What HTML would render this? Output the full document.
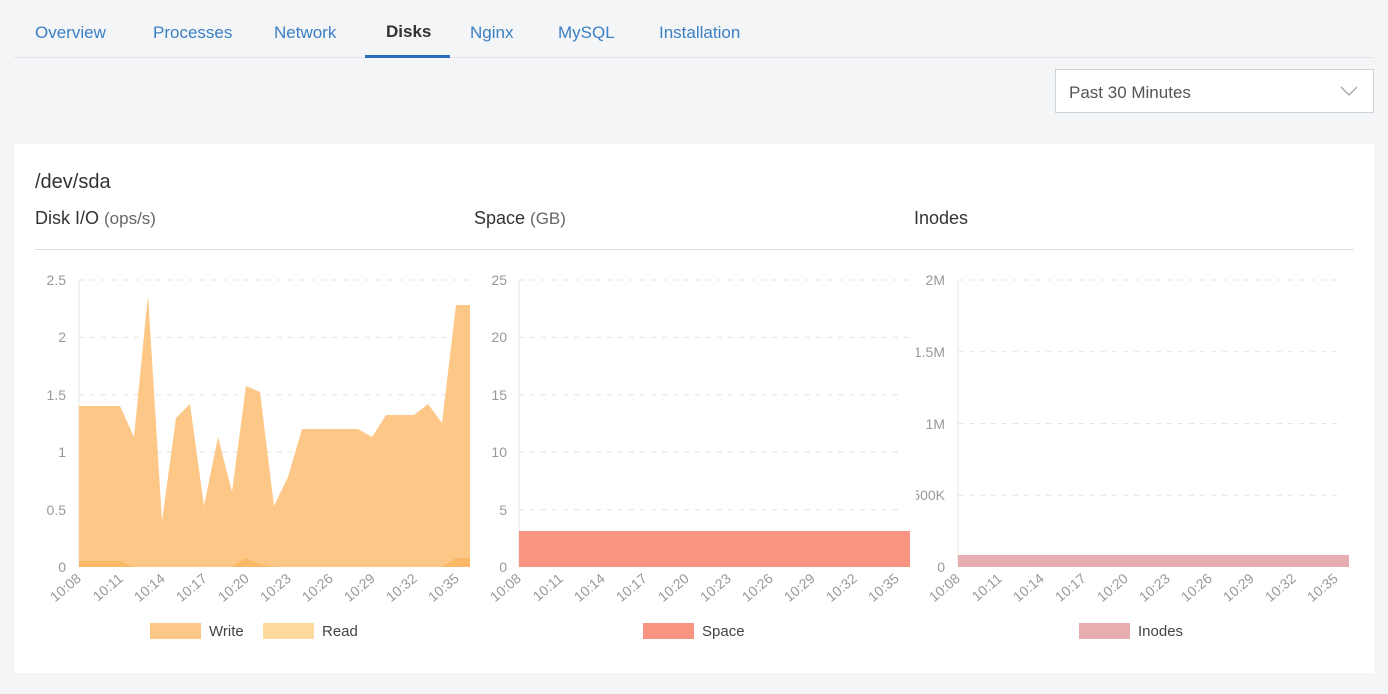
<!DOCTYPE html>
<html><head><meta charset="utf-8"><style>
body{margin:0;background:#f4f5f7;font-family:"Liberation Sans",sans-serif;}
</style></head><body>
<svg width="1388" height="689" xmlns="http://www.w3.org/2000/svg" font-family="Liberation Sans, sans-serif">
<rect width="1388" height="689" fill="#f4f5f7"/>
<g font-size="17" fill="#3b7fc4">
<text x="35" y="38">Overview</text>
<text x="153" y="38">Processes</text>
<text x="274" y="38">Network</text>
<text x="386" y="37" fill="#333" font-weight="bold">Disks</text>
<text x="470" y="38">Nginx</text>
<text x="558" y="38">MySQL</text>
<text x="659" y="38">Installation</text>
</g>
<rect x="14" y="57" width="1360" height="1" fill="#e1e3e6"/>
<rect x="365" y="55" width="85" height="3" fill="#2d6bbf"/>
<rect x="1055.5" y="69.5" width="318" height="43" fill="#fff" stroke="#cfd2d6"/>
<text x="1069" y="98" font-size="17" fill="#555">Past 30 Minutes</text>
<path d="M1341 87 l8 8 l8 -8" fill="none" stroke="#aaa" stroke-width="1.5"/>
<rect x="14" y="144" width="1360" height="529" fill="#fff"/>
<text x="35" y="188" font-size="20" fill="#333">/dev/sda</text>
<text x="35" y="224" font-size="18" fill="#333">Disk I/O <tspan fill="#666" font-size="17">(ops/s)</tspan></text>
<text x="474" y="224" font-size="18" fill="#333">Space <tspan fill="#666" font-size="17">(GB)</tspan></text>
<text x="914" y="224" font-size="18" fill="#333">Inodes</text>
<rect x="35" y="249" width="1319" height="1" fill="#ddd"/>
<g stroke="#e4e4e4" stroke-dasharray="5,6">
<line x1="79" x2="470" y1="280" y2="280"/><line x1="79" x2="470" y1="337.4" y2="337.4"/><line x1="79" x2="470" y1="394.8" y2="394.8"/><line x1="79" x2="470" y1="452.2" y2="452.2"/><line x1="79" x2="470" y1="509.6" y2="509.6"/>
<line x1="519" x2="910" y1="280" y2="280"/><line x1="519" x2="910" y1="337.4" y2="337.4"/><line x1="519" x2="910" y1="394.8" y2="394.8"/><line x1="519" x2="910" y1="452.2" y2="452.2"/><line x1="519" x2="910" y1="509.6" y2="509.6"/>
<line x1="958" x2="1343" y1="280" y2="280"/><line x1="958" x2="1343" y1="351.75" y2="351.75"/><line x1="958" x2="1343" y1="423.5" y2="423.5"/><line x1="958" x2="1343" y1="495.25" y2="495.25"/>
</g>
<g stroke="#e6e6e6"><line x1="79" x2="79" y1="280" y2="567"/><line x1="519" x2="519" y1="280" y2="567"/><line x1="958" x2="958" y1="280" y2="567"/></g>
<polygon fill="#fdc887" points="79,567 79,406 120,406 134,437 148,295 162,521 176,418 190,404 204,506 218,437 232,492 246,386 260,392 274,506 288,477 302,429 358,429 372,437 386,415 414,415 428,404 442,423 456,305 470,305 470,567"/>
<polygon fill="#fbb866" points="79,567 79,561 120,561 134,567 232,567 246,558 260,564 274,567 442,567 456,558 470,558 470,567"/>
<rect x="519" y="531" width="391" height="36" fill="#f99483"/>
<rect x="958" y="555" width="391" height="12" fill="#e8adb0"/>
<g font-size="14" fill="#999" text-anchor="end">
<text x="66" y="285">2.5</text><text x="66" y="342">2</text><text x="66" y="400">1.5</text><text x="66" y="457">1</text><text x="66" y="515">0.5</text><text x="66" y="572">0</text>
<text x="507" y="285">25</text><text x="507" y="342">20</text><text x="507" y="400">15</text><text x="507" y="457">10</text><text x="507" y="515">5</text><text x="507" y="572">0</text>
<text x="945" y="285">2M</text><text x="945" y="357">1.5M</text><text x="945" y="429">1M</text><text x="945" y="500">500K</text><text x="945" y="572">0</text>
</g>
<rect x="900" y="340" width="16" height="170" fill="#fff"/>
<g font-size="14" fill="#999" text-anchor="end">
<text transform="translate(82,580) rotate(-40)">10:08</text><text transform="translate(124,580) rotate(-40)">10:11</text><text transform="translate(166,580) rotate(-40)">10:14</text><text transform="translate(208,580) rotate(-40)">10:17</text><text transform="translate(250,580) rotate(-40)">10:20</text><text transform="translate(292,580) rotate(-40)">10:23</text><text transform="translate(334,580) rotate(-40)">10:26</text><text transform="translate(376,580) rotate(-40)">10:29</text><text transform="translate(418,580) rotate(-40)">10:32</text><text transform="translate(460,580) rotate(-40)">10:35</text>
<text transform="translate(522,580) rotate(-40)">10:08</text><text transform="translate(564,580) rotate(-40)">10:11</text><text transform="translate(606,580) rotate(-40)">10:14</text><text transform="translate(648,580) rotate(-40)">10:17</text><text transform="translate(690,580) rotate(-40)">10:20</text><text transform="translate(732,580) rotate(-40)">10:23</text><text transform="translate(774,580) rotate(-40)">10:26</text><text transform="translate(816,580) rotate(-40)">10:29</text><text transform="translate(858,580) rotate(-40)">10:32</text><text transform="translate(900,580) rotate(-40)">10:35</text>
<text transform="translate(961,580) rotate(-40)">10:08</text><text transform="translate(1003,580) rotate(-40)">10:11</text><text transform="translate(1045,580) rotate(-40)">10:14</text><text transform="translate(1087,580) rotate(-40)">10:17</text><text transform="translate(1129,580) rotate(-40)">10:20</text><text transform="translate(1171,580) rotate(-40)">10:23</text><text transform="translate(1213,580) rotate(-40)">10:26</text><text transform="translate(1255,580) rotate(-40)">10:29</text><text transform="translate(1297,580) rotate(-40)">10:32</text><text transform="translate(1339,580) rotate(-40)">10:35</text>
</g>
<g font-size="15" fill="#444">
<rect x="150" y="623" width="51" height="16" fill="#fdc887"/><text x="209" y="636">Write</text>
<rect x="263" y="623" width="51" height="16" fill="#fed9a0"/><text x="322" y="636">Read</text>
<rect x="643" y="623" width="51" height="16" fill="#f99483"/><text x="702" y="636">Space</text>
<rect x="1079" y="623" width="51" height="16" fill="#e8adb0"/><text x="1138" y="636">Inodes</text>
</g>
</svg>
</body></html>
